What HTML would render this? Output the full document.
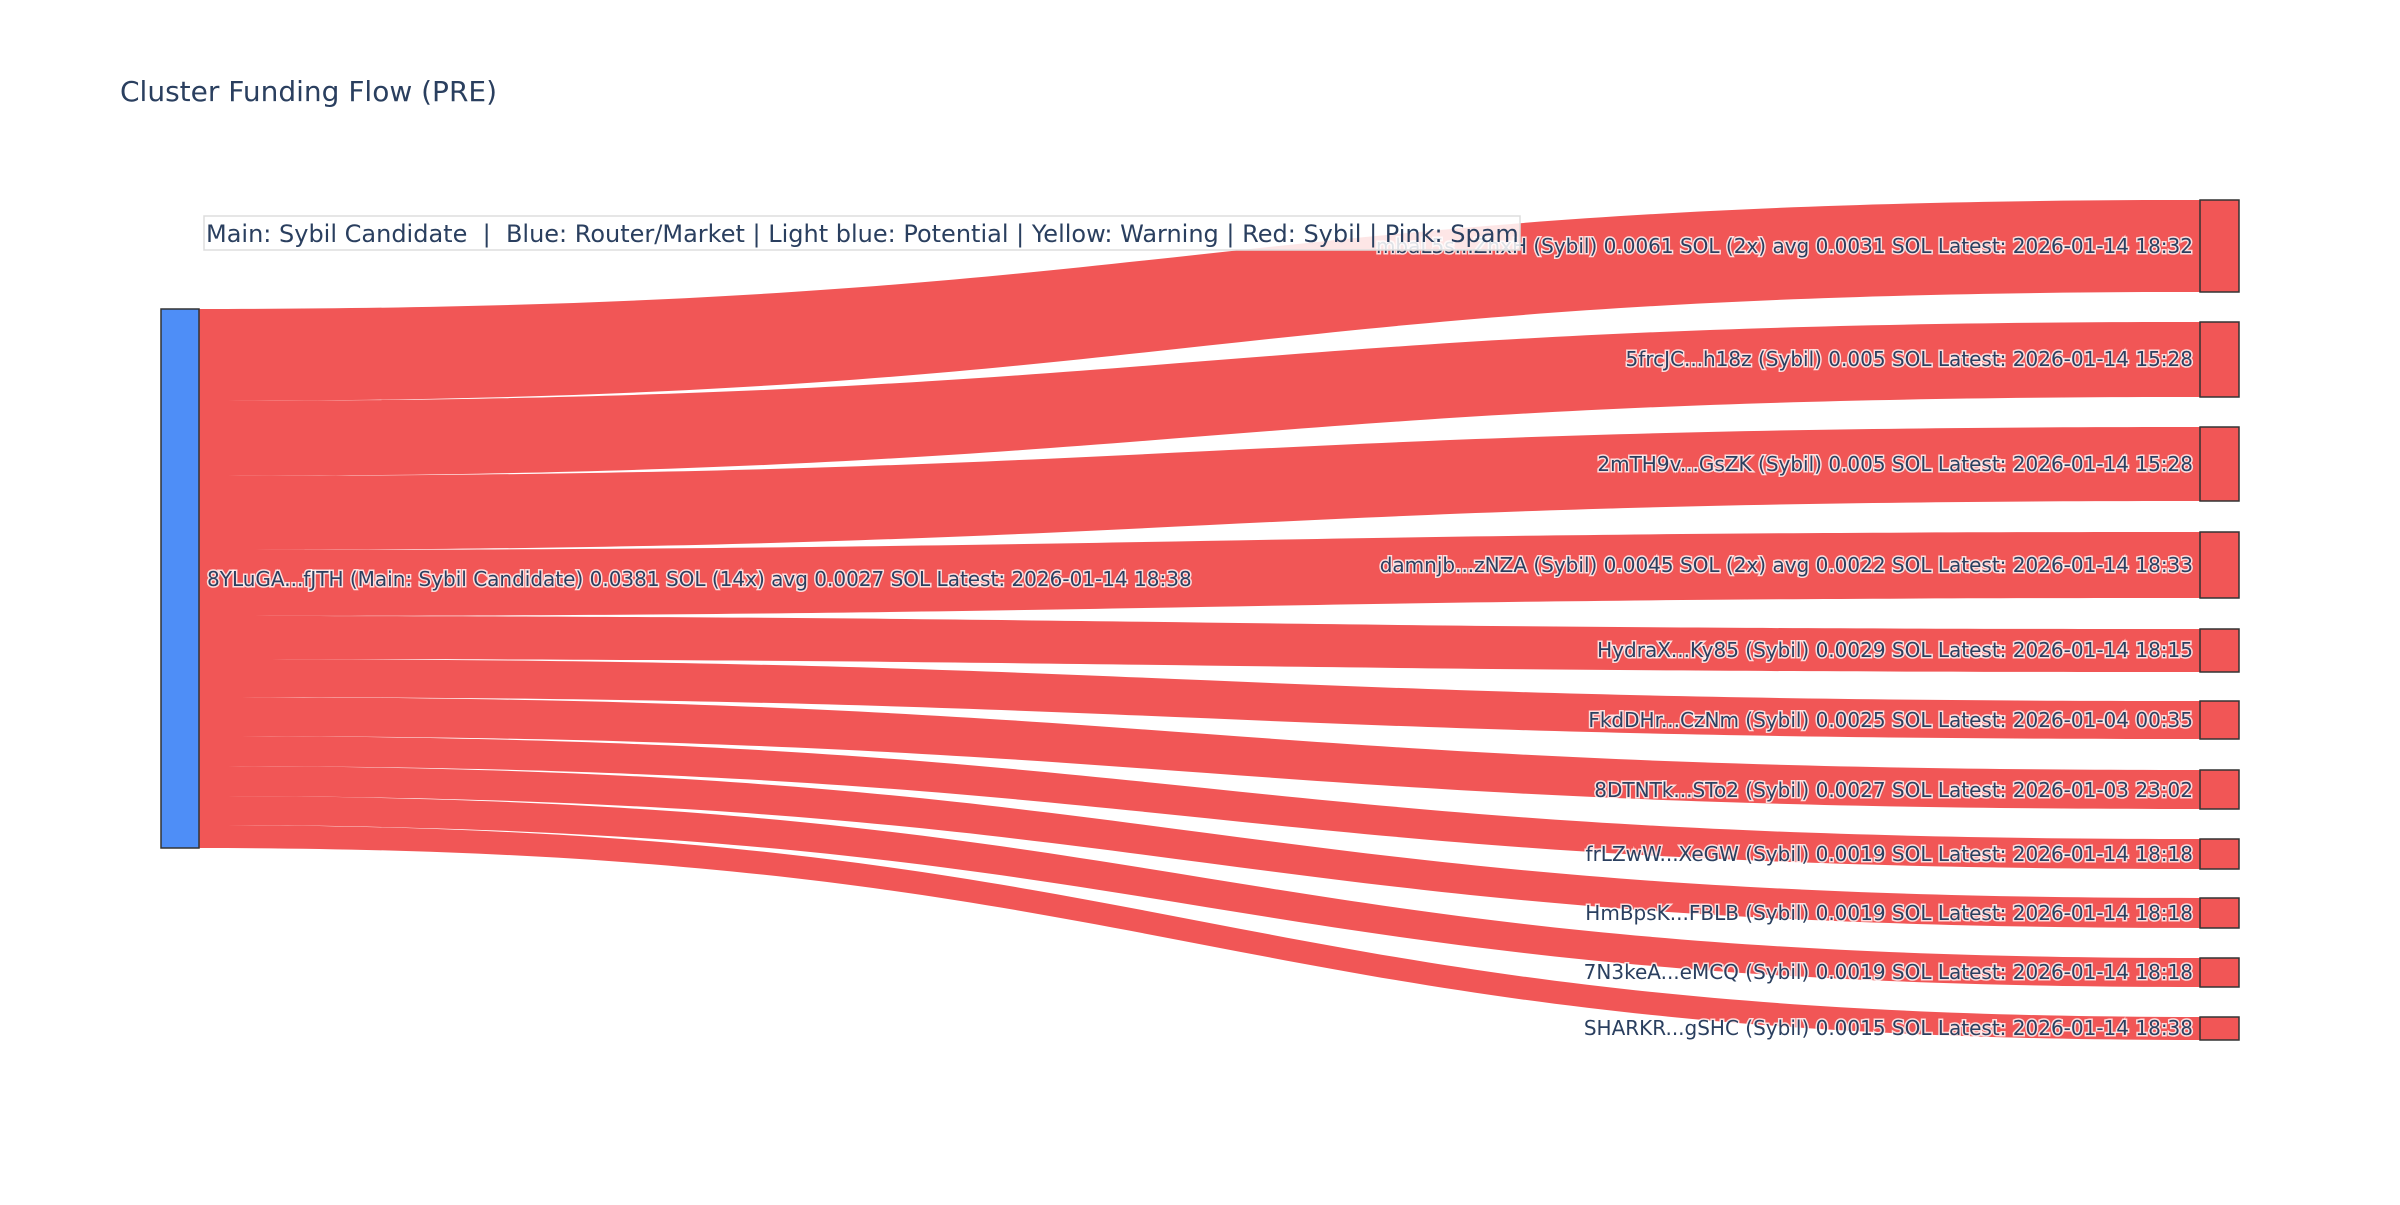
<!DOCTYPE html>
<html><head><meta charset="utf-8"><style>
html,body{margin:0;padding:0;background:#fff;}
svg text{font-family:"DejaVu Sans","Liberation Sans",sans-serif;fill:#2a3f5f;}
.lb{font-size:20px;paint-order:stroke;stroke:rgba(255,255,255,0.8);stroke-width:3px;}
</style></head><body>
<svg width="2400" height="1200" viewBox="0 0 2400 1200" xmlns="http://www.w3.org/2000/svg">
<rect width="2400" height="1200" fill="#fff"/>
<text x="120" y="101" style="font-size:28px">Cluster Funding Flow (PRE)</text>
<g fill="rgba(239,68,68,0.9)">
<path d="M199,309 C1199.5,309 1199.5,200 2200,200 L2200,292 C1199.5,292 1199.5,401 199,401 Z"/>
<path d="M199,401 C1199.5,401 1199.5,322 2200,322 L2200,397 C1199.5,397 1199.5,476 199,476 Z"/>
<path d="M199,476 C1199.5,476 1199.5,427 2200,427 L2200,501 C1199.5,501 1199.5,550 199,550 Z"/>
<path d="M199,550 C1199.5,550 1199.5,532 2200,532 L2200,598 C1199.5,598 1199.5,616 199,616 Z"/>
<path d="M199,616 C1199.5,616 1199.5,629 2200,629 L2200,672 C1199.5,672 1199.5,659 199,659 Z"/>
<path d="M199,659 C1199.5,659 1199.5,701 2200,701 L2200,739 C1199.5,739 1199.5,697 199,697 Z"/>
<path d="M199,697 C1199.5,697 1199.5,770 2200,770 L2200,809 C1199.5,809 1199.5,736 199,736 Z"/>
<path d="M199,736 C1199.5,736 1199.5,839 2200,839 L2200,869 C1199.5,869 1199.5,766 199,766 Z"/>
<path d="M199,766 C1199.5,766 1199.5,898 2200,898 L2200,928 C1199.5,928 1199.5,796 199,796 Z"/>
<path d="M199,796 C1199.5,796 1199.5,958 2200,958 L2200,987 C1199.5,987 1199.5,825 199,825 Z"/>
<path d="M199,825 C1199.5,825 1199.5,1017 2200,1017 L2200,1040 C1199.5,1040 1199.5,848 199,848 Z"/>
</g>
<rect x="161" y="309" width="38" height="539" fill="rgba(59,130,246,0.9)" stroke="#333" stroke-width="1.5"/>
<g fill="rgba(239,68,68,0.9)" stroke="#333" stroke-width="1.5">
<rect x="2200" y="200" width="39" height="92"/>
<rect x="2200" y="322" width="39" height="75"/>
<rect x="2200" y="427" width="39" height="74"/>
<rect x="2200" y="532" width="39" height="66"/>
<rect x="2200" y="629" width="39" height="43"/>
<rect x="2200" y="701" width="39" height="38"/>
<rect x="2200" y="770" width="39" height="39"/>
<rect x="2200" y="839" width="39" height="30"/>
<rect x="2200" y="898" width="39" height="30"/>
<rect x="2200" y="958" width="39" height="29"/>
<rect x="2200" y="1017" width="39" height="23"/>
</g>
<text class="lb" x="207" y="586">8YLuGA...fJTH (Main: Sybil Candidate) 0.0381 SOL (14x) avg 0.0027 SOL Latest: 2026-01-14 18:38</text>
<g text-anchor="end">
<text class="lb" x="2193" y="253">mbaL5s...ZhxH (Sybil) 0.0061 SOL (2x) avg 0.0031 SOL Latest: 2026-01-14 18:32</text>
<text class="lb" x="2193" y="366">5frcJC...h18z (Sybil) 0.005 SOL Latest: 2026-01-14 15:28</text>
<text class="lb" x="2193" y="471">2mTH9v...GsZK (Sybil) 0.005 SOL Latest: 2026-01-14 15:28</text>
<text class="lb" x="2193" y="572">damnjb...zNZA (Sybil) 0.0045 SOL (2x) avg 0.0022 SOL Latest: 2026-01-14 18:33</text>
<text class="lb" x="2193" y="657">HydraX...Ky85 (Sybil) 0.0029 SOL Latest: 2026-01-14 18:15</text>
<text class="lb" x="2193" y="727">FkdDHr...CzNm (Sybil) 0.0025 SOL Latest: 2026-01-04 00:35</text>
<text class="lb" x="2193" y="797">8DTNTk...STo2 (Sybil) 0.0027 SOL Latest: 2026-01-03 23:02</text>
<text class="lb" x="2193" y="861">frLZwW...XeGW (Sybil) 0.0019 SOL Latest: 2026-01-14 18:18</text>
<text class="lb" x="2193" y="920">HmBpsK...FBLB (Sybil) 0.0019 SOL Latest: 2026-01-14 18:18</text>
<text class="lb" x="2193" y="979">7N3keA...eMCQ (Sybil) 0.0019 SOL Latest: 2026-01-14 18:18</text>
<text class="lb" x="2193" y="1035">SHARKR...gSHC (Sybil) 0.0015 SOL Latest: 2026-01-14 18:38</text>
</g>
<rect x="204" y="216" width="1316" height="34" fill="rgba(255,255,255,0.85)" stroke="#ddd" stroke-width="1.5"/>
<text x="206" y="242" style="font-size:24px" xml:space="preserve">Main: Sybil Candidate  |  Blue: Router/Market | Light blue: Potential | Yellow: Warning | Red: Sybil | Pink: Spam</text>
</svg>
</body></html>
